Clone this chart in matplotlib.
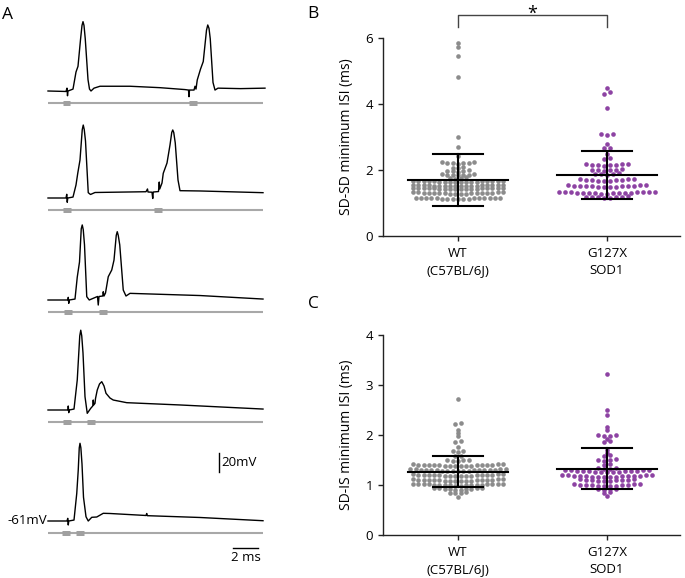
"""Motor axon recordings (A) and minimum ISI scatter plots (B, C)."""

import matplotlib

matplotlib.use("Agg")
import matplotlib.pyplot as plt  # noqa: E402
import numpy as np  # noqa: E402

plt.rcParams["font.family"] = ["Open Sans", "DejaVu Sans"]

W, H = 685, 578

# ---------------- data ----------------
# panel A: voltage traces, key points (time ms, mV above rest)
TRACE_1 = [(0, 0), (1.44, -0.5), (1.52, 3), (1.56, -5), (1.6, 0), (2.0, 2), (2.24, 20), (2.4, 26),
           (2.6, 54), (2.72, 69), (2.8, 73), (2.88, 69), (2.98, 55), (3.2, 12), (3.32, 2),
           (3.44, 0), (3.68, 3), (4.16, 5), (6.56, 5), (8.96, 3.5), (10.96, 1.5), (11.24, 1),
           (11.28, -6), (11.32, 1), (11.68, 1), (11.76, 5), (11.84, 2), (11.94, 11.6), (12.2, 23),
           (12.42, 31), (12.68, 64), (12.78, 69.5), (12.88, 66), (12.98, 55), (13.2, 9), (13.36, 1),
           (13.6, 3), (15.4, 2.5), (17.36, 3)]
TRACE_2 = [(0, 0), (1.44, 0), (1.5, 3.9), (1.54, -4.5), (1.58, 0), (2.0, 1), (2.24, 13.7),
           (2.38, 26), (2.56, 40), (2.74, 72), (2.82, 76.8), (2.9, 72), (3.0, 60), (3.22, 5.6),
           (3.4, 3.7), (3.76, 5.8), (7.84, 6.6), (7.96, 9.5), (8.0, 6.3), (8.32, 6.1), (8.38, -0.5),
           (8.42, 6.3), (8.84, 6.8), (8.9, 16.8), (8.94, 9.5), (9.12, 15.8), (9.22, 26),
           (9.52, 36.8), (9.76, 55.8), (9.9, 69), (9.98, 71.6), (10.06, 69), (10.18, 58),
           (10.4, 19), (10.56, 7.7), (12.16, 7.4), (17.2, 5.6)]
TRACE_3 = [(0, 0), (1.6, 0), (1.62, 2.8), (1.66, -3.5), (1.7, 0), (2.16, 1), (2.34, 24),
           (2.52, 40), (2.66, 75), (2.74, 79), (2.82, 74), (2.92, 58), (3.1, 3.5), (3.3, 0),
           (3.62, 1.8), (3.96, 3.7), (4.02, -5.3), (4.08, 3.7), (4.38, 4.2), (4.42, 8.7),
           (4.48, 4.2), (4.6, 7.4), (4.82, 24.5), (5.1, 31.6), (5.28, 42), (5.46, 68),
           (5.54, 71.9), (5.62, 68), (5.74, 58), (6.02, 10.5), (6.24, 4.2), (6.56, 7),
           (12.16, 4.7), (17.2, 1)]
TRACE_4 = [(0, 0), (1.6, 0), (1.62, 4.2), (1.66, -2.8), (1.7, 0), (2.08, 1), (2.34, 31.6),
           (2.54, 78), (2.62, 84), (2.7, 78), (2.8, 60), (2.96, 14), (3.14, -3.5), (3.42, 1.8),
           (3.58, 4.2), (3.62, 10.5), (3.66, 5.3), (3.76, 7), (3.8, 12), (3.94, 21), (4.12, 27.4),
           (4.3, 29.8), (4.48, 25.3), (4.64, 17.6), (4.96, 12.6), (5.22, 10.5), (6.3, 7.7),
           (10.56, 5.3), (17.2, 1)]
TRACE_5 = [(0, 0), (1.52, 0), (1.58, 2.8), (1.62, -4.2), (1.66, 0), (2.08, 1), (2.3, 29),
           (2.42, 53.7), (2.5, 77), (2.56, 81.8), (2.63, 77), (2.72, 60), (2.84, 25), (3.04, 4.5),
           (3.22, 0), (3.5, 3.9), (3.9, 4.2), (4.42, 8.1), (4.96, 7.9), (7.84, 5.8), (7.9, 7.9),
           (7.94, 5.6), (12.16, 3.7), (17.2, 0.3)]
TRACES = [TRACE_1, TRACE_2, TRACE_3, TRACE_4, TRACE_5]
STIM_TIMES = [[1.49, 11.6], [1.5, 8.8], [1.6, 4.4], [1.5, 3.44], [1.44, 2.56]]  # ms
REST_MV = -61
SWEEP_MS = 17.2

# panel B: SD-SD minimum ISI (ms)
WT_SDSD = [5.85, 5.72, 5.45, 4.83, 3.01, 2.71, 2.41,
           2.19, 2.2, 2.21, 2.21, 2.22, 2.23, 2.24,
           2.05, 2.06, 2.08,
           1.95, 1.96, 1.97, 1.98, 1.99,
           1.84, 1.85, 1.86, 1.86, 1.86, 1.87, 1.88,
           1.74, 1.75, 1.77, 1.78,
           1.63, 1.63, 1.64, 1.64, 1.64, 1.65, 1.65, 1.65, 1.66, 1.66, 1.66, 1.66, 1.67, 1.67, 1.67,
           1.68, 1.68, 1.68,
           1.51, 1.51, 1.52, 1.52, 1.52, 1.53, 1.53, 1.53, 1.53, 1.54, 1.54, 1.54, 1.55, 1.55, 1.55,
           1.55, 1.56, 1.56,
           1.41, 1.41, 1.42, 1.42, 1.42, 1.43, 1.43, 1.43, 1.44, 1.44, 1.44, 1.45, 1.45, 1.45, 1.45,
           1.46, 1.46, 1.46,
           1.27, 1.27, 1.28, 1.28, 1.29, 1.29, 1.29, 1.3, 1.3, 1.3, 1.31, 1.31, 1.31, 1.31, 1.32,
           1.32, 1.32, 1.32,
           1.11, 1.11, 1.12, 1.12, 1.13, 1.13, 1.14, 1.14, 1.14, 1.15, 1.15, 1.15, 1.15, 1.16, 1.16,
           1.16, 1.16]
SOD1_SDSD = [4.5, 4.35, 4.3, 3.87, 3.05, 3.09, 3.1, 2.78, 2.66, 2.66, 2.5, 2.34, 2.36,
             2.13, 2.14, 2.15, 2.16, 2.16, 2.17, 2.18, 2.18,
             1.98, 1.99, 2.0, 2.0, 2.01, 2.02,
             1.86, 1.87, 1.88, 1.89, 1.9,
             1.67, 1.68, 1.68, 1.69, 1.7, 1.7, 1.71, 1.72, 1.72, 1.72,
             1.49, 1.49, 1.5, 1.5, 1.51, 1.51, 1.52, 1.52, 1.53, 1.53, 1.53, 1.54, 1.54, 1.54,
             1.28, 1.28, 1.29, 1.29, 1.3, 1.3, 1.3, 1.31, 1.31, 1.31, 1.32, 1.32, 1.32, 1.33, 1.33,
             1.33, 1.33,
             1.16, 1.16, 1.17, 1.17, 1.18, 1.19, 1.19, 1.2]

# panel C: SD-IS minimum ISI (ms)
WT_SDIS = [2.72, 2.25, 2.22, 2.1, 2.05, 1.98, 1.88, 1.86, 1.77, 1.69, 1.68, 1.67, 1.59, 1.58,
           1.51, 1.5, 1.5, 1.49, 1.48,
           1.38, 1.38, 1.39, 1.39, 1.39, 1.39, 1.4, 1.4, 1.4, 1.4, 1.41, 1.41, 1.41, 1.41, 1.41,
           1.42, 1.42, 1.42,
           1.28, 1.28, 1.29, 1.29, 1.29, 1.29, 1.3, 1.3, 1.3, 1.3, 1.31, 1.31, 1.31, 1.31, 1.31,
           1.32, 1.32, 1.32, 1.32,
           1.18, 1.18, 1.19, 1.19, 1.19, 1.19, 1.2, 1.2, 1.2, 1.2, 1.21, 1.21, 1.21, 1.21, 1.21,
           1.22, 1.22, 1.22,
           1.08, 1.08, 1.09, 1.09, 1.09, 1.09, 1.1, 1.1, 1.1, 1.1, 1.11, 1.11, 1.11, 1.11, 1.11,
           1.12, 1.12, 1.12,
           0.99, 0.99, 1.0, 1.0, 1.0, 1.0, 1.01, 1.01, 1.01, 1.01, 1.02, 1.02, 1.02, 1.02, 1.02,
           1.03, 1.03, 1.03,
           0.91, 0.91, 0.92, 0.92, 0.93, 0.93, 0.94, 0.94, 0.95, 0.95,
           0.84, 0.85, 0.85, 0.86, 0.77]
SOD1_SDIS = [3.23, 2.51, 2.4, 2.17, 2.11, 1.98, 1.99, 2.0, 2.01, 1.92, 1.86, 1.88, 1.71, 1.65,
             1.59, 1.61, 1.49, 1.5, 1.51, 1.53, 1.4, 1.42, 1.32, 1.33, 1.34, 1.35,
             1.26, 1.26, 1.27, 1.27, 1.27, 1.28, 1.28, 1.28, 1.29, 1.29, 1.29, 1.3, 1.3, 1.3, 1.3,
             1.16, 1.16, 1.17, 1.17, 1.17, 1.18, 1.18, 1.18, 1.18, 1.19, 1.19, 1.19, 1.2, 1.2, 1.2, 1.2,
             1.08, 1.09, 1.09, 1.1, 1.1, 1.1, 1.11, 1.11, 1.12, 1.12,
             0.98, 0.98, 0.99, 0.99, 1.0, 1.0, 1.0, 1.01, 1.01, 1.02, 1.02, 1.02,
             0.91, 0.92, 0.92, 0.93, 0.84, 0.86, 0.78]

GROUPS = ["WT\n(C57BL/6J)", "G127X\nSOD1"]
COLORS = ["#8c8c8c", "#8d43a3"]
DOT_PITCH_PX = [5.3, 6.0]

# ---------------- layout helpers ----------------
MS_PX = 12.5      # px per ms in panel A
MV_PX = 0.95      # px per mV in panel A
BASE_PX = [91, 198, 300, 410, 521]   # trace baselines (px from top)
GREY = "#a8a8a8"


def swarm(values, center, bw, pitch):
    """Prism-like rows: values within bw share a row, spread sideways."""
    vals = np.sort(np.asarray(values, float))
    xs, ys = [], []
    i = 0
    while i < len(vals):
        j = i
        while j < len(vals) and vals[j] - vals[i] < bw - 1e-9:
            j += 1
        n = j - i
        if n % 2:
            slots = [0] + [s for k in range(1, n) for s in (-k, k)]
        else:
            slots = [s for k in range(n) for s in (-(k + 0.5), k + 0.5)]
        xs += [center + s * pitch for s in slots[:n]]
        ys += list(vals[i:j])
        i = j
    return np.array(xs), np.array(ys)


def scatter_panel(ax, groups, ymax, ystep, bw, ylabel):
    for k, (vals, col, p) in enumerate(zip(groups, COLORS, DOT_PITCH_PX)):
        x, y = swarm(vals, k, bw, p / 149)
        ax.scatter(x, y, s=11, color=col, linewidths=0, zorder=2, clip_on=False)
        m, sd = np.mean(vals), np.std(vals, ddof=1)
        ax.plot([k - 0.335, k + 0.335], [m, m], color="black", lw=1.5, zorder=3)
        for e in (m - sd, m + sd):
            ax.plot([k - 0.165, k + 0.165], [e, e], color="black", lw=1.5, zorder=3)
        ax.plot([k, k], [m - sd, m + sd], color="black", lw=1.5, zorder=3)
    ax.set_xlim(-0.503, 1.49)
    ax.set_ylim(0, ymax)
    ax.set_yticks(np.arange(0, ymax + 0.01, ystep))
    ax.set_xticks([0, 1])
    ax.set_xticklabels(GROUPS, linespacing=1.45)
    for sp in ("top", "right"):
        ax.spines[sp].set_visible(False)
    for sp in ("left", "bottom"):
        ax.spines[sp].set_linewidth(1.0)
        ax.spines[sp].set_color("#222222")
    ax.tick_params(direction="out", length=3.6, width=1.0, labelsize=9.5, color="#222222")
    ax.tick_params(axis="x", pad=4)
    ax.tick_params(axis="y", pad=3.5)
    ax.set_ylabel(ylabel, fontsize=10)
    ax.yaxis.set_label_coords(-0.098, 0.5)


fig = plt.figure(figsize=(W / 100, H / 100), dpi=100)
fig.patch.set_facecolor("white")

# ---------------- panel A ----------------
axA = fig.add_axes([0, 0, 290 / W, 1])
axA.set_xlim(-48 / MS_PX, 242 / MS_PX)
axA.set_ylim(REST_MV - (H - BASE_PX[-1]) / MV_PX, REST_MV + BASE_PX[-1] / MV_PX)
axA.axis("off")
for tr, stims, bpx in zip(TRACES, STIM_TIMES, BASE_PX):
    base = REST_MV + (BASE_PX[-1] - bpx) / MV_PX
    bar_y = base - 12.5
    axA.plot([0, SWEEP_MS], [bar_y, bar_y], color=GREY, lw=1.5, solid_capstyle="butt")
    for s in stims:
        axA.plot([s - 0.3, s + 0.3], [bar_y, bar_y], color="#a0a0a0", lw=3.6,
                 solid_capstyle="butt")
    t, v = zip(*tr)
    axA.plot(t, base + np.array(v), color="black", lw=1.0, solid_joinstyle="round")

# scale bars
axA.plot([13.68, 13.68], [-9.4, 10.6], color="black", lw=1)
axA.text(13.9, 0.8, "20mV", ha="left", va="center", fontsize=9.5)
axA.plot([14.8, 16.8], [-89.4, -89.4], color="black", lw=1)
axA.text(15.8, -92.5, "2 ms", ha="center", va="top", fontsize=9.5)
axA.text(-0.08, REST_MV, "-61mV", ha="right", va="center", fontsize=9.5)

# ---------------- panel B ----------------
axB = fig.add_axes([383 / W, 1 - 236 / H, 297 / W, 198 / H])
scatter_panel(axB, [WT_SDSD, SOD1_SDSD], 6, 2, 0.06, "SD-SD minimum ISI (ms)")
axB.plot([0, 0, 1, 1], [6.33, 6.7, 6.7, 6.33], color="#444444", lw=1, clip_on=False)
axB.text(0.5, 6.57, "*", ha="center", va="baseline", fontsize=13)

# ---------------- panel C ----------------
axC = fig.add_axes([383 / W, 1 - 535 / H, 297 / W, 200 / H])
scatter_panel(axC, [WT_SDIS, SOD1_SDIS], 4, 1, 0.045, "SD-IS minimum ISI (ms)")

# panel letters
fig.text(2 / W, 1 - 19 / H, "A", fontsize=12.5, ha="left", va="baseline")
fig.text(307 / W, 1 - 17.5 / H, "B", fontsize=12.5, ha="left", va="baseline")
fig.text(308 / W, 1 - 308 / H, "C", fontsize=12.5, ha="left", va="baseline")

fig.savefig("out.png", dpi=100)
